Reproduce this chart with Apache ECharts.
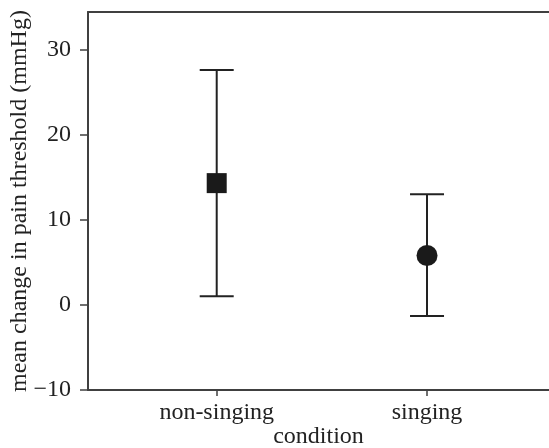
<!DOCTYPE html>
<html><head><meta charset="utf-8">
<script src="https://cdn.jsdelivr.net/npm/echarts@6/dist/echarts.min.js"></script>
<style>html,body{margin:0;padding:0;background:#fff}#c{width:549px;height:448px}</style>
</head><body><div id="c"></div>
<script>
var categories = ['non-singing', 'singing'];
var means = [14.3, 5.8];
var upper = [27.6, 13.0];
var lower = [1.0, -1.3];
var symbols = ['rect', 'circle'];
var yTicks = [-10, 0, 10, 20, 30];
var xPositions = [1, 2];

var font = '"Liberation Serif", "Times New Roman", serif';
var ink = '#222222';
var axisCol = '#404040';

var chart = echarts.init(document.getElementById('c'), null, {renderer: 'canvas'});
chart.setOption({
  animation: false,
  grid: {left: 88, top: 12, right: 0, bottom: 58, containLabel: false, outerBoundsMode: 'none'},
  xAxis: [{
    type: 'value', min: 0.388, max: 2.58,
    name: 'condition', nameLocation: 'middle', nameGap: 35, nameMoveOverlap: false,
    nameTextStyle: {fontFamily: font, fontSize: 24, color: ink},
    axisLine: {show: true, onZero: false, lineStyle: {color: axisCol, width: 2}},
    axisTick: {show: true, inside: false, length: 6, customValues: xPositions, lineStyle: {color: axisCol, width: 1.5}},
    axisLabel: {customValues: xPositions, margin: 11, fontFamily: font, fontSize: 24, color: ink,
      formatter: function (v) { return categories[Math.round(v) - 1] || ''; }},
    splitLine: {show: false}
  }, {
    type: 'value', position: 'top', min: 0, max: 1,
    axisLine: {show: true, onZero: false, lineStyle: {color: axisCol, width: 2}},
    axisTick: {show: false}, axisLabel: {show: false}, splitLine: {show: false}
  }],
  yAxis: {
    type: 'value', min: -10, max: 34.4,
    name: 'mean change in pain threshold (mmHg)', nameLocation: 'middle', nameGap: 56, nameMoveOverlap: false,
    nameTextStyle: {fontFamily: font, fontSize: 24, color: ink},
    axisLine: {show: true, onZero: false, lineStyle: {color: axisCol, width: 2}},
    axisTick: {show: true, length: 8, customValues: yTicks, lineStyle: {color: axisCol, width: 1.5}},
    axisLabel: {customValues: yTicks, margin: 17, fontFamily: font, fontSize: 24, color: ink,
      formatter: function (v) { return String(v).replace('-', '\u2212'); }},
    splitLine: {show: false}
  },
  series: [{
    type: 'custom',
    data: categories.map(function (c, i) { return [xPositions[i], lower[i], upper[i]]; }),
    renderItem: function (params, api) {
      var x = api.value(0);
      var lo = api.coord([x, api.value(1)]);
      var hi = api.coord([x, api.value(2)]);
      var hw = 17;
      var st = {stroke: ink, lineWidth: 2};
      return {type: 'group', children: [
        {type: 'line', shape: {x1: lo[0], y1: lo[1], x2: hi[0], y2: hi[1]}, style: st},
        {type: 'line', shape: {x1: hi[0] - hw, y1: hi[1], x2: hi[0] + hw, y2: hi[1]}, style: st},
        {type: 'line', shape: {x1: lo[0] - hw, y1: lo[1], x2: lo[0] + hw, y2: lo[1]}, style: st}
      ]};
    },
    z: 2
  }, {
    type: 'scatter',
    data: categories.map(function (c, i) {
      return {value: [xPositions[i], means[i]], symbol: symbols[i], symbolSize: symbols[i] === 'rect' ? 20 : 21};
    }),
    itemStyle: {color: '#1a1a1a', opacity: 1},
    z: 3
  }]
});
</script></body></html>
